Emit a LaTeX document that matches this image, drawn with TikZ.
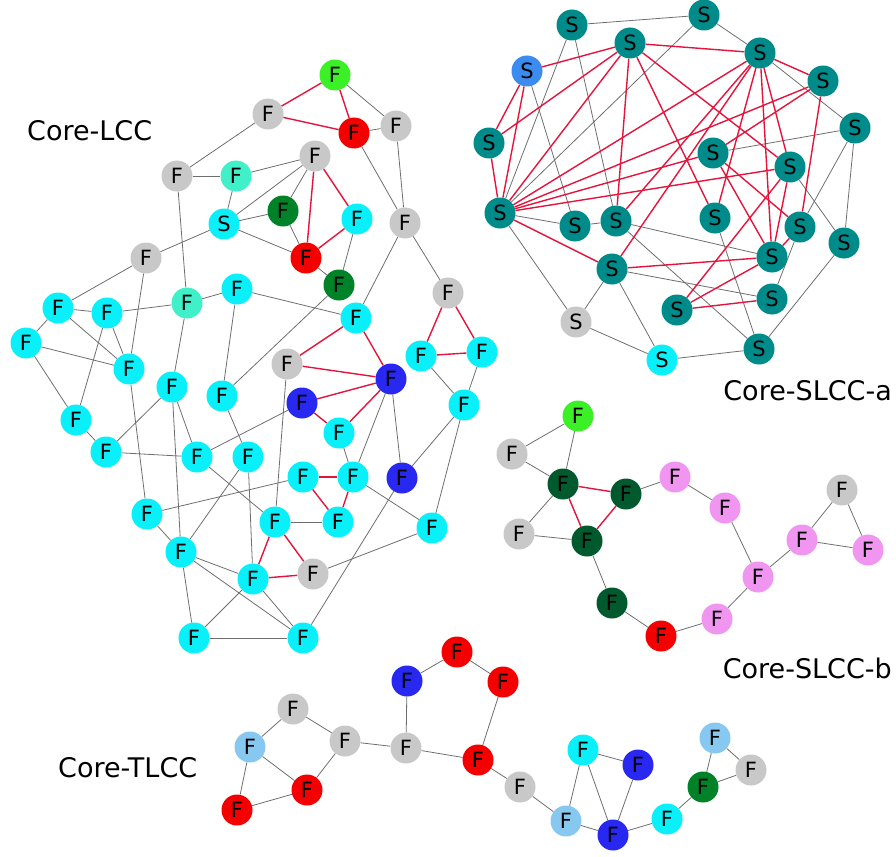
\documentclass[tikz,border=0pt]{standalone}
\usepackage{fontspec}
\setmainfont{DejaVu Sans}
\usetikzlibrary{backgrounds}
\definecolor{cyn}{RGB}{10,240,250}
\definecolor{gry}{RGB}{200,200,200}
\definecolor{tealS}{RGB}{0,139,139}
\definecolor{sblue}{RGB}{60,140,240}
\definecolor{redF}{RGB}{245,0,0}
\definecolor{lgreen}{RGB}{60,240,40}
\definecolor{dgreen}{RGB}{0,130,40}
\definecolor{ddgreen}{RGB}{0,90,45}
\definecolor{aqua}{RGB}{64,240,200}
\definecolor{blueF}{RGB}{40,40,240}
\definecolor{skyb}{RGB}{135,200,240}
\definecolor{pinkF}{RGB}{240,150,240}
\definecolor{edgegray}{RGB}{110,110,110}
\definecolor{edgered}{RGB}{228,20,60}
\tikzset{
  nd/.style={circle,minimum size=31pt,inner sep=0pt,draw=none,font=\fontsize{21}{21}\selectfont},
  ge/.style={draw=edgegray,line width=0.8pt},
  re/.style={draw=edgered,line width=1.4pt},
  lab/.style={font=\fontsize{27}{27}\selectfont,inner sep=0pt}
}
\begin{document}
\begin{tikzpicture}[x=1pt,y=-1pt]
\useasboundingbox (0,0) rectangle (896,856);
% labels
\node[lab,anchor=base west] (tLCC) at (27,140) {Core-LCC};
\node[lab,anchor=base east] (tSa) at (892,400) {Core-SLCC-a};
\node[lab,anchor=base east] (tSb) at (892,678) {Core-SLCC-b};
\node[lab,anchor=base west] (tT) at (58,777) {Core-TLCC};
% ---------------- Core-LCC nodes
\foreach \n/\x/\y/\c/\t in {
L1/335/75/lgreen/F, L2/268/114/gry/F, L3/354/133/redF/F, L4/396/126/gry/F,
L5/177/176/gry/F, L6/236/176/aqua/F, L7/315/156/gry/F, L8/283/211/dgreen/F,
L9/224/224/cyn/S, L10/357/219/cyn/F, L11/405/223/gry/F, L12/306/258/redF/F,
L13/339/285/dgreen/F, L14/146/258/gry/F, L15/448/293/gry/F, L16/58/308/cyn/F,
L17/107/313/cyn/F, L18/187/303/aqua/F, L19/237/289/cyn/F, L20/356/318/cyn/F,
L21/26/343/cyn/F, L22/129/369/cyn/F, L23/172/387/cyn/F, L24/222/396/cyn/F,
L25/287/364/gry/F, L26/391/379/blueF/F, L27/421/356/cyn/F, L28/482/352/cyn/F,
L29/302/403/blueF/F, L30/464/405/cyn/F, L31/76/420/cyn/F, L32/339/433/cyn/F,
L33/106/452/cyn/F, L34/197/457/cyn/F, L35/248/457/cyn/F, L36/303/477/cyn/F,
L37/353/477/cyn/F, L38/402/478/blueF/F, L39/147/514/cyn/F, L40/275/522/cyn/F,
L41/338/522/cyn/F, L42/432/528/cyn/F, L43/181/552/cyn/F, L44/253/579/cyn/F,
L45/313/574/gry/F, L46/194/638/cyn/F, L47/303/638/cyn/F}
  \node[nd,fill=\c] (\n) at (\x,\y) {\t};
% ---------------- Core-SLCC-a nodes
\foreach \n/\x/\y/\c in {
S1/572/25/tealS, S2/704/15/tealS, S3/630/43/tealS, S4/527/71/sblue,
S5/760/53/tealS, S6/823/81/tealS, S7/489/143/tealS, S8/855/128/tealS,
S9/713/153/tealS, S10/790/167/tealS, S11/500/213/tealS, S12/575/226/tealS,
S13/616/221/tealS, S14/715/218/tealS, S15/800/227/tealS, S16/844/243/tealS,
S17/772/257/tealS, S18/612/269/tealS, S19/772/299/tealS, S20/677/310/tealS,
S21/576/322/gry, S22/662/360/cyn, S23/759/349/tealS}
  \node[nd,fill=\c] (\n) at (\x,\y) {S};
% ---------------- Core-SLCC-b nodes
\foreach \n/\x/\y/\c in {
B1/578/416/lgreen, B2/512/454/gry, B3/563/484/ddgreen, B4/626/494/ddgreen,
B5/675/477/pinkF, B6/519/534/gry, B7/587/541/ddgreen, B8/725/508/pinkF,
B9/842/490/gry, B10/802/540/pinkF, B11/868/550/pinkF, B12/758/577/pinkF,
B13/612/603/ddgreen, B14/661/636/redF, B15/717/619/pinkF}
  \node[nd,fill=\c] (\n) at (\x,\y) {F};
% ---------------- Core-TLCC nodes
\foreach \n/\x/\y/\c in {
T1/293/709/gry, T2/250/747/skyb, T3/345/741/gry, T4/307/790/redF,
T5/237/810/redF, T6/406/748/gry, T7/407/681/blueF, T8/457/652/redF,
T9/503/682/redF, T10/478/760/redF, T11/520/787/gry, T12/583/750/cyn,
T13/638/765/blueF, T14/566/821/skyb, T15/613/835/blueF, T16/667/819/cyn,
T17/703/787/dgreen, T18/715/738/skyb, T19/751/770/gry}
  \node[nd,fill=\c] (\n) at (\x,\y) {F};
% ---------------- edges
\begin{pgfonlayer}{background}
\foreach \a/\b in {L1/L4, L3/L4, L2/L5, L5/L6, L6/L7, L6/L9, L7/L9, L7/L8, L9/L8,
  L8/L12, L9/L12, L10/L13, L12/L13, L4/L11, L3/L11, L11/L15, L11/L20, L9/L14,
  L14/L16, L14/L22, L5/L18, L16/L17, L17/L18, L18/L19, L19/L20, L16/L21,
  L13/L24, L16/L22, L17/L22, L21/L22, L17/L31, L21/L31, L31/L33, L22/L39,
  L18/L23, L23/L33, L33/L34, L23/L34, L23/L43, L19/L24, L24/L35, L34/L29,
  L25/L40, L26/L37, L26/L38, L32/L37, L36/L39, L37/L42, L40/L41, L34/L40,
  L35/L43, L35/L44, L45/L42, L39/L43, L43/L44, L43/L47, L43/L46, L44/L46,
  L44/L47, L46/L47, L38/L47, L27/L30, L28/L30, L30/L38, L30/L42}
  \draw[ge] (\a) -- (\b);
\foreach \a/\b in {L1/L2, L2/L3, L1/L3, L7/L12, L7/L10, L10/L12, L15/L27,
  L15/L28, L27/L28, L20/L25, L20/L26, L25/L26, L29/L26, L29/L32, L32/L26,
  L36/L37, L36/L41, L37/L41, L40/L44, L40/L45, L44/L45}
  \draw[re] (\a) -- (\b);
\foreach \a/\b in {S1/S2, S1/S11, S1/S13, S2/S5, S2/S11, S4/S12, S5/S8, S8/S9,
  S8/S15, S8/S16, S10/S16, S11/S12, S12/S13, S11/S21, S13/S17, S13/S23,
  S14/S23, S15/S19, S18/S19, S18/S21, S18/S22, S21/S22, S22/S23, S16/S23}
  \draw[ge] (\a) -- (\b);
\foreach \a/\b in {S3/S4, S3/S5, S3/S7, S3/S11, S3/S13, S3/S14, S3/S10, S4/S7,
  S4/S11, S7/S11, S5/S6, S5/S11, S5/S13, S5/S18, S5/S14, S5/S10, S5/S17,
  S6/S11, S6/S9, S6/S15, S9/S11, S9/S17, S9/S15, S10/S11, S10/S17, S10/S20,
  S11/S18, S15/S17, S17/S18, S17/S20, S19/S20}
  \draw[re] (\a) -- (\b);
\foreach \a/\b in {B1/B2, B1/B3, B2/B3, B3/B6, B6/B7, B4/B5, B5/B8, B8/B12,
  B12/B10, B10/B9, B10/B11, B9/B11, B12/B15, B15/B14, B14/B13, B13/B7}
  \draw[ge] (\a) -- (\b);
\foreach \a/\b in {B3/B4, B3/B7, B4/B7}
  \draw[re] (\a) -- (\b);
\foreach \a/\b in {T1/T2, T1/T3, T2/T4, T2/T5, T4/T5, T3/T4, T3/T6, T6/T7,
  T7/T8, T8/T9, T9/T10, T6/T10, T10/T11, T11/T14, T14/T12, T12/T15, T12/T13,
  T13/T15, T14/T15, T15/T16, T16/T17, T17/T18, T18/T19, T17/T19}
  \draw[ge] (\a) -- (\b);
\end{pgfonlayer}
\end{tikzpicture}
\end{document}
